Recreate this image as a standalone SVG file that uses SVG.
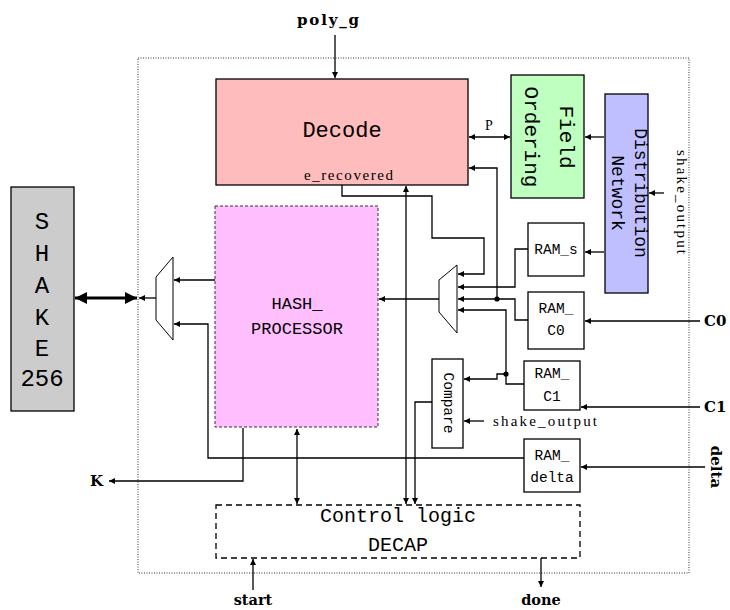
<svg xmlns="http://www.w3.org/2000/svg" width="730" height="610" viewBox="0 0 730 610">
<style>
.box{stroke:#000;stroke-width:1.3}
.mono{font-family:"Liberation Mono","DejaVu Sans Mono",monospace;fill:#000}
.serif{font-family:"Liberation Serif","DejaVu Serif",serif;fill:#000}
.bold{font-family:"DejaVu Serif","Liberation Serif",serif;font-weight:bold;fill:#000}
.w{fill:none;stroke:#000;stroke-width:1.3}
.a{marker-end:url(#ah)}
.d{marker-start:url(#ah);marker-end:url(#ah)}
</style>
<defs>
<marker id="ah" viewBox="0 0 10 10" refX="10" refY="5" markerWidth="7" markerHeight="6" markerUnits="userSpaceOnUse" orient="auto-start-reverse"><path d="M0,0 L10,5 L0,10 z" fill="#000"/></marker>
<marker id="big" viewBox="0 0 10 10" refX="10" refY="5" markerWidth="16" markerHeight="12" markerUnits="userSpaceOnUse" orient="auto-start-reverse"><path d="M0,0 L10,5 L0,10 z" fill="#000"/></marker>
</defs>
<rect width="730" height="610" fill="#fff"/>
<g id="boundary"><rect x="138" y="58" width="551" height="515" fill="none" stroke="#000" stroke-width="0.8" stroke-dasharray="1,1.5"/></g>

<g id="shake256">
<rect class="box" x="11" y="187" width="63" height="224" fill="#cccccc"/>
<g class="mono" font-size="24" text-anchor="middle">
<text x="42" y="229">S</text><text x="42" y="261">H</text><text x="42" y="293">A</text><text x="42" y="325">K</text><text x="42" y="356">E</text><text x="42" y="386">256</text>
</g>
</g>

<g id="decode">
<rect class="box" x="216" y="79" width="252" height="106" fill="#ffbcbc"/>
<text class="mono" x="342" y="137" font-size="22" text-anchor="middle">Decode</text>
<text class="serif" x="304" y="180" font-size="15" textLength="89" lengthAdjust="spacing">e_recovered</text>
</g>

<g id="field-ordering">
<rect class="box" x="511" y="75" width="73" height="123" fill="#bfffbf"/>
<g transform="translate(547,137) rotate(90)" class="mono" font-size="21" text-anchor="middle" dominant-baseline="central">
<text x="0" y="-18">Field</text><text x="0" y="17">Ordering</text>
</g>
</g>

<g id="distribution-network">
<rect class="box" x="605" y="94" width="43" height="199" fill="#bfbfff"/>
<g transform="translate(626,193) rotate(90)" class="mono" font-size="18" text-anchor="middle" dominant-baseline="central">
<text x="0" y="-14">Distribution</text><text x="0" y="9">Network</text>
</g>
</g>

<g id="hash-processor">
<rect x="215" y="206" width="163" height="221" fill="#ffbfff" stroke="#333" stroke-width="1" stroke-dasharray="3,2"/>
<g class="mono" font-size="17" text-anchor="middle"><text x="297" y="309">HASH_</text><text x="297" y="334">PROCESSOR</text></g>
</g>

<g id="mux-left"><polygon points="173,257 173,340 156,320 156,277" fill="#fff" stroke="#000" stroke-width="1"/></g>
<g id="mux-right"><polygon points="457,265 457,333 439,312 439,280" fill="#fff" stroke="#000" stroke-width="1"/></g>

<g id="ram-s">
<rect class="box" x="528" y="223" width="56" height="53" fill="#fff"/>
<text class="mono" x="556" y="254" font-size="14.5" text-anchor="middle">RAM_s</text>
</g>
<g id="ram-c0">
<rect class="box" x="528" y="292" width="56" height="57" fill="#fff"/>
<g class="mono" font-size="14.5" text-anchor="middle"><text x="556" y="313">RAM_</text><text x="556" y="335">C0</text></g>
</g>
<g id="ram-c1">
<rect class="box" x="524" y="361" width="56" height="49" fill="#fff"/>
<g class="mono" font-size="14.5" text-anchor="middle"><text x="552" y="378">RAM_</text><text x="552" y="401">C1</text></g>
</g>
<g id="ram-delta">
<rect class="box" x="524" y="439" width="56" height="53" fill="#fff"/>
<g class="mono" font-size="14.5" text-anchor="middle"><text x="552" y="460">RAM_</text><text x="552" y="482">delta</text></g>
</g>

<g id="compare">
<rect class="box" x="432" y="359" width="31" height="89" fill="#fff"/>
<text class="mono" transform="translate(448,403) rotate(90)" font-size="14.5" text-anchor="middle" dominant-baseline="central">Compare</text>
</g>

<g id="control-logic">
<rect x="216" y="505" width="364" height="53" fill="none" stroke="#000" stroke-width="1.3" stroke-dasharray="6,4"/>
<g class="mono" font-size="20" text-anchor="middle"><text x="398" y="522">Control logic</text><text x="398" y="551">DECAP</text></g>
</g>

<g id="labels">
<text class="bold" x="328" y="25" font-size="15" text-anchor="middle" textLength="62" lengthAdjust="spacing">poly_g</text>
<text class="serif" x="489" y="130" font-size="14" text-anchor="middle">P</text>
<text class="serif" transform="translate(682,202) rotate(90)" font-size="15" text-anchor="middle" dominant-baseline="central" textLength="104" lengthAdjust="spacing">shake_output</text>
<text class="serif" x="493" y="426" font-size="15" textLength="104" lengthAdjust="spacing">shake_output</text>
<text class="bold" x="704" y="326" font-size="15">C0</text>
<text class="bold" x="704" y="412" font-size="15">C1</text>
<text class="bold" transform="translate(716,467) rotate(90)" font-size="15" text-anchor="middle" dominant-baseline="central">delta</text>
<text class="bold" x="90" y="486" font-size="15">K</text>
<text class="bold" x="253" y="605" font-size="14.5" text-anchor="middle">start</text>
<text class="bold" x="541" y="605" font-size="14.5" text-anchor="middle">done</text>
</g>

<g id="connectors">
<line class="w a" x1="335" y1="35" x2="335" y2="78"/>
<line class="w d" x1="469" y1="137" x2="510" y2="137"/>
<line class="w a" x1="604" y1="137" x2="585" y2="137"/>
<line class="w a" x1="664" y1="193" x2="649" y2="193"/>
<line class="w a" x1="604" y1="252" x2="585" y2="252"/>
<line class="w a" x1="700" y1="321" x2="585" y2="321"/>
<line class="w a" x1="700" y1="407" x2="581" y2="407"/>
<line class="w a" x1="705" y1="467" x2="581" y2="467"/>
<polyline class="w a" points="342,185 342,196 432,196 432,238 484,238 484,274 458,274"/>
<polyline class="w a" points="528,249 515,249 515,287 458,287"/>
<polyline class="w a" points="528,320 515,320 515,299 458,299"/>
<polyline class="w a" points="497,299 497,168 469,168"/>
<circle cx="497" cy="299" r="2.6" fill="#000"/>
<polyline class="w a" points="524,384 506,384 506,310 458,310"/>
<circle cx="506" cy="374" r="2.6" fill="#000"/>
<polyline class="w a" points="506,374 497,374 497,379 464,379"/>
<line class="w a" x1="484" y1="421" x2="464" y2="421"/>
<polyline class="w a" points="432,402 415,402 415,504"/>
<line class="w d" x1="406" y1="186" x2="406" y2="504"/>
<line class="w a" x1="439" y1="299" x2="379" y2="299"/>
<line class="w a" x1="215" y1="280" x2="174" y2="280"/>
<polyline class="w a" points="524,458 208,458 208,324 174,324"/>
<line class="w a" x1="156" y1="298" x2="139" y2="298"/>
<line x1="75" y1="298" x2="137" y2="298" stroke="#000" stroke-width="3.2" marker-start="url(#big)" marker-end="url(#big)"/>
<polyline class="w a" points="243,428 243,481 109,481"/>
<line class="w d" x1="297" y1="429" x2="297" y2="504"/>
<line class="w a" x1="253" y1="590" x2="253" y2="559"/>
<line class="w a" x1="541" y1="558" x2="541" y2="587"/>
</g>
</svg>
